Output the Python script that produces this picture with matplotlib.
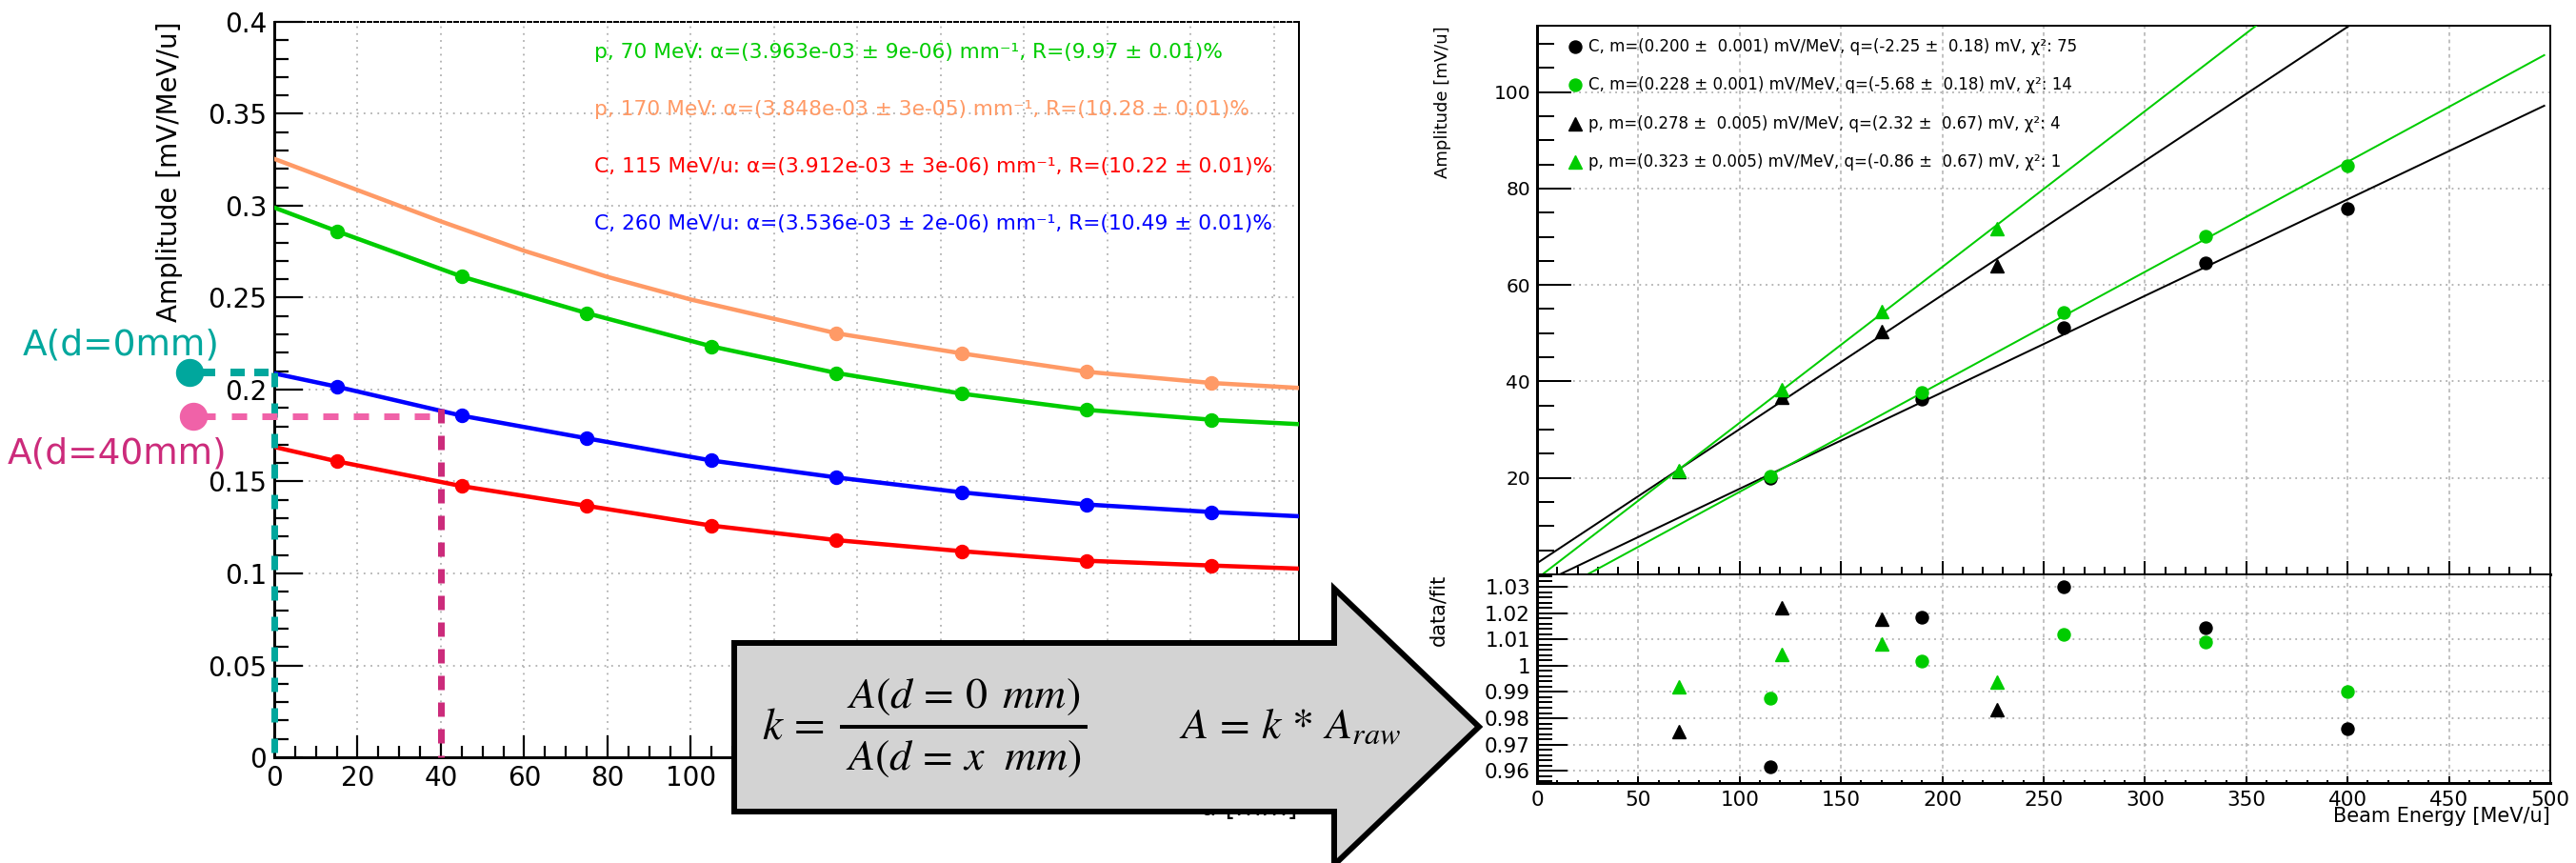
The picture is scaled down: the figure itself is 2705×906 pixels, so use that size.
import numpy as np
import matplotlib
matplotlib.use("Agg")
import matplotlib.pyplot as plt
from matplotlib.patches import Polygon
from matplotlib.lines import Line2D
from matplotlib.ticker import MultipleLocator, FuncFormatter

# ---------------- data: left panel (amplitude vs depth) ----------------
d_markers = [15, 45, 75, 105, 135, 165, 195, 225]
p70_markers = [0.2862, 0.2615, 0.2416, 0.2235, 0.2090, 0.1978, 0.1890, 0.1836]
c260_markers = [0.2016, 0.1858, 0.1735, 0.1614, 0.1522, 0.1441, 0.1375, 0.1334]
c115_markers = [0.1610, 0.1475, 0.1368, 0.1260, 0.1181, 0.1121, 0.1069, 0.1043]
d_p170_markers = [135, 165, 195, 225]
p170_markers = [0.2306, 0.2197, 0.2097, 0.2036]

# fitted curves
d_fit = [0, 15, 45, 75, 105, 135, 165, 195, 225, 246]
p70_fit = [0.2990, 0.2862, 0.2615, 0.2416, 0.2235, 0.2090, 0.1978, 0.1890, 0.1836, 0.1812]
c260_fit = [0.2088, 0.2016, 0.1858, 0.1735, 0.1614, 0.1522, 0.1441, 0.1375, 0.1334, 0.1311]
c115_fit = [0.1688, 0.1610, 0.1475, 0.1368, 0.1260, 0.1181, 0.1121, 0.1069, 0.1043, 0.1026]
d_fit_p170 = [0, 20, 40, 60, 80, 100, 135, 165, 195, 225, 246]
p170_fit = [0.3255, 0.3085, 0.2915, 0.2755, 0.2613, 0.2490, 0.2306, 0.2197, 0.2097, 0.2036, 0.2009]

left_labels = [
    "p, 70 MeV: α=(3.963e-03 ± 9e-06) mm⁻¹, R=(9.97 ± 0.01)%",
    "p, 170 MeV: α=(3.848e-03 ± 3e-05) mm⁻¹, R=(10.28 ± 0.01)%",
    "C, 115 MeV/u: α=(3.912e-03 ± 3e-06) mm⁻¹, R=(10.22 ± 0.01)%",
    "C, 260 MeV/u: α=(3.536e-03 ± 2e-06) mm⁻¹, R=(10.49 ± 0.01)%",
]
# annotation values
A_d0 = 0.2092
d_ref = 40
A_d40 = 0.1856

# ---------------- data: right panel (amplitude vs beam energy) ----------------
E_C = [115, 190, 260, 330, 400]
E_p = [70, 121, 170, 227]
amp_C_black = [19.95, 36.41, 51.24, 64.67, 75.89]
amp_C_green = [20.29, 37.71, 54.24, 70.18, 84.66]
amp_p_black = [21.23, 36.75, 50.45, 64.07]
amp_p_green = [21.58, 38.38, 54.49, 71.69]
ratio_C_black = [0.9614, 1.0185, 1.0300, 1.0144, 0.9761]
ratio_C_green = [0.9876, 1.0019, 1.0119, 1.0089, 0.9900]
ratio_p_black = [0.9749, 1.0220, 1.0175, 0.9834]
ratio_p_green = [0.9920, 1.0042, 1.0081, 0.9938]
fit_slope = [0.200, 0.228, 0.278, 0.323]
fit_intercept = [-2.25, -5.68, 2.32, -0.86]
fit_range = [0, 497]
right_labels = [
    "C, m=(0.200 ±  0.001) mV/MeV, q=(-2.25 ±  0.18) mV, χ²: 75",
    "C, m=(0.228 ± 0.001) mV/MeV, q=(-5.68 ±  0.18) mV, χ²: 14",
    "p, m=(0.278 ±  0.005) mV/MeV, q=(2.32 ±  0.67) mV, χ²: 4",
    "p, m=(0.323 ± 0.005) mV/MeV, q=(-0.86 ±  0.67) mV, χ²: 1",
]

# ---------------- layout helpers ----------------
W, H, DPI = 2705, 906, 100
def fx(px): return px / W
def fy(py): return 1 - py / H
def pt(px): return px * 72.0 / DPI

GREEN = "#00cc00"
ORANGE = "#ff9a66"
RED = "#ff0000"
BLUE = "#0000ff"
TEAL = "#00a79d"
PINK = "#f062a8"
MAGENTA = "#cc2b7b"
GRID = "#b0b0b0"

plt.rcParams["font.family"] = ["DejaVu Sans"]
fig = plt.figure(figsize=(W / DPI, H / DPI), dpi=DPI)
gfmt = FuncFormatter(lambda v, p: "%g" % round(v, 6))

# ================= left panel =================
axL = fig.add_axes([fx(288), fy(795), (1364 - 288) / W, (795 - 23) / H])
axL.set_xlim(0, 246)
axL.set_ylim(0, 0.4)
axL.xaxis.set_major_locator(MultipleLocator(20))
axL.xaxis.set_minor_locator(MultipleLocator(5))
# labels beyond 100 mm are hidden behind the arrow in the reference
axL.xaxis.set_major_formatter(FuncFormatter(lambda v, p: "%g" % v if v <= 100.5 else ""))
axL.yaxis.set_major_locator(MultipleLocator(0.05))
axL.yaxis.set_minor_locator(MultipleLocator(0.01))
axL.yaxis.set_major_formatter(gfmt)
axL.tick_params(axis="x", which="major", direction="in", length=pt(23), width=pt(2.2),
                labelsize=20, pad=pt(8))
axL.tick_params(axis="x", which="minor", direction="in", length=pt(12), width=pt(2.2))
axL.tick_params(axis="y", which="major", direction="in", length=pt(30), width=pt(2.2),
                labelsize=20, pad=pt(8))
axL.tick_params(axis="y", which="minor", direction="in", length=pt(15), width=pt(2.2))
axL.grid(True, which="major", color=GRID, linestyle=(0, (1, 3)), linewidth=1.3)
axL.spines["left"].set_linewidth(pt(3))
axL.spines["bottom"].set_linewidth(pt(3))
axL.spines["right"].set_linewidth(pt(2))
axL.spines["top"].set_linewidth(pt(2))
axL.spines["top"].set_linestyle((0, (2, 1.5)))

axL.plot(d_fit_p170, p170_fit, color=ORANGE, lw=pt(4.5), zorder=3)
axL.plot(d_fit, p70_fit, color=GREEN, lw=pt(4.5), zorder=3)
axL.plot(d_fit, c260_fit, color=BLUE, lw=pt(4.5), zorder=3)
axL.plot(d_fit, c115_fit, color=RED, lw=pt(4.5), zorder=3)
axL.plot(d_p170_markers, p170_markers, "o", color=ORANGE, ms=pt(14), zorder=4)
axL.plot(d_markers, p70_markers, "o", color=GREEN, ms=pt(14), zorder=4)
axL.plot(d_markers, c260_markers, "o", color=BLUE, ms=pt(14), zorder=4)
axL.plot(d_markers, c115_markers, "o", color=RED, ms=pt(14), zorder=4)

for i, (lab, col) in enumerate(zip(left_labels, [GREEN, ORANGE, RED, BLUE])):
    fig.text(fx(624), fy(55 + 60 * i), lab, color=col, fontsize=15.7, ha="left", va="center")

axL.set_ylabel("Amplitude [mV/MeV/u]", fontsize=20)
axL.yaxis.set_label_coords((178 - 288) / (1364 - 288), 1.0)
axL.yaxis.label.set_verticalalignment("center")
axL.yaxis.label.set_horizontalalignment("right")
fig.text(fx(1363), fy(856), "d [mm]", fontsize=20, ha="right", va="baseline", zorder=1)

# ---- A(d=0mm) / A(d=40mm) annotations ----
ytr = axL.get_yaxis_transform()  # x: axes fraction, y: data
ax_w = 1364 - 288
def axfx(px): return (px - 288) / ax_w
lw_ann = pt(8)
axL.add_line(Line2D([axfx(199), axfx(226)], [A_d0, A_d0], color=TEAL, lw=lw_ann,
                    transform=ytr, clip_on=False, solid_capstyle="butt", zorder=6))
axL.add_line(Line2D([axfx(242), axfx(290)], [A_d0, A_d0], color=TEAL, lw=lw_ann,
                    transform=ytr, clip_on=False, linestyle=(0, (15 / 8, 10 / 8)),
                    dash_capstyle="butt", zorder=6))
axL.add_line(Line2D([0, 0], [A_d0, 0], color=TEAL, lw=pt(7), clip_on=False,
                    linestyle=(0, (15 / 7, 17 / 7)), dash_capstyle="butt", zorder=6))
axL.plot([axfx(199)], [A_d0], "o", color=TEAL, ms=pt(28), transform=ytr, clip_on=False, zorder=7)

axL.add_line(Line2D([axfx(203), axfx(226)], [A_d40, A_d40], color=PINK, lw=pt(7),
                    transform=ytr, clip_on=False, solid_capstyle="butt", zorder=6))
axL.add_line(Line2D([axfx(243), axfx(288 + d_ref * ax_w / 246)], [A_d40, A_d40],
                    color=PINK, lw=pt(7), transform=ytr, clip_on=False,
                    linestyle=(0, (16 / 7, 16 / 7)), dash_capstyle="butt", zorder=6))
axL.add_line(Line2D([d_ref, d_ref], [A_d40 + 0.004, 0], color=MAGENTA, lw=pt(7), clip_on=False,
                    linestyle=(0, (15 / 7, 13 / 7)), dash_capstyle="butt", zorder=6))
axL.plot([axfx(203)], [A_d40], "o", color=PINK, ms=pt(28), transform=ytr, clip_on=False, zorder=7)

fig.text(fx(24), fy(373), "A(d=0mm)", color=TEAL, fontsize=27, ha="left", va="baseline")
fig.text(fx(8), fy(487), "A(d=40mm)", color=MAGENTA, fontsize=27, ha="left", va="baseline")

# ---- big arrow ----
arrow_px = [(771, 675), (1401, 675), (1401, 618), (1553, 763), (1401, 908), (1401, 852), (771, 852)]
arrow = Polygon([(fx(x), fy(y)) for x, y in arrow_px], closed=True, transform=fig.transFigure,
                facecolor="#d3d3d3", edgecolor="black", lw=pt(6), joinstyle="miter", zorder=20)
fig.add_artist(arrow)
fig.text(fx(800), fy(775), r"$k\, =$", fontsize=34, math_fontfamily="stix", ha="left",
         va="baseline", zorder=21)
fig.text(fx(1012), fy(743), r"$A(d\,=\,0\ \,mm)$", fontsize=33, math_fontfamily="stix",
         ha="center", va="baseline", zorder=21)
fig.text(fx(1012), fy(808), r"$A(d\,=\,x\ \ mm)$", fontsize=33, math_fontfamily="stix",
         ha="center", va="baseline", zorder=21)
fig.add_artist(Line2D([fx(884), fx(1140)], [fy(763), fy(763)], color="black", lw=pt(4),
                      transform=fig.transFigure, zorder=21))
fig.text(fx(1238), fy(775), r"$A\,=\,k\,*\,A_{raw}$", fontsize=33, math_fontfamily="stix",
         ha="left", va="baseline", zorder=21)

# ================= right panels =================
x0, x1 = 1614, 2678
axU = fig.add_axes([fx(x0), fy(603), (x1 - x0) / W, (603 - 26.7) / H])
axD = fig.add_axes([fx(x0), fy(821.7), (x1 - x0) / W, (821.7 - 603) / H])

for ax in (axU, axD):
    ax.set_xlim(0, 500)
    ax.xaxis.set_major_locator(MultipleLocator(50))
    ax.xaxis.set_minor_locator(MultipleLocator(10))
    ax.yaxis.set_major_formatter(gfmt)
    ax.grid(True, which="major", axis="x", color=GRID, linestyle=(0, (2.5, 2.5)), linewidth=1.1)
    ax.grid(True, which="major", axis="y", color=GRID, linestyle=(0, (1, 2.5)), linewidth=1.3)
    ax.spines["left"].set_linewidth(pt(3))
    ax.spines["bottom"].set_linewidth(pt(3))
    ax.spines["right"].set_linewidth(pt(2))
    ax.spines["top"].set_linewidth(pt(2))

axU.set_ylim(0, 113.8)
axU.yaxis.set_major_locator(MultipleLocator(20))
axU.yaxis.set_minor_locator(MultipleLocator(5))
axU.yaxis.set_major_formatter(FuncFormatter(lambda v, p: "" if abs(v) < 1e-9 else "%g" % v))
axU.tick_params(axis="x", which="major", direction="in", length=pt(14), width=pt(2), labelbottom=False)
axU.tick_params(axis="x", which="minor", direction="in", length=pt(8), width=pt(2))
axU.tick_params(axis="y", which="major", direction="in", length=pt(36), width=pt(2),
                labelsize=14.5, pad=pt(7))
axU.tick_params(axis="y", which="minor", direction="in", length=pt(18), width=pt(2))

axD.set_ylim(0.9555, 1.0347)
axD.yaxis.set_major_locator(MultipleLocator(0.01))
axD.yaxis.set_minor_locator(MultipleLocator(0.002))
axD.tick_params(axis="x", which="major", direction="in", length=pt(7), width=pt(2),
                labelsize=15.5, pad=pt(8))
axD.tick_params(axis="x", which="minor", direction="in", length=pt(3), width=pt(2))
axD.tick_params(axis="y", which="major", direction="in", length=pt(32), width=pt(2),
                labelsize=15.5, pad=pt(7))
axD.tick_params(axis="y", which="minor", direction="in", length=pt(16), width=pt(2))

line_cols = ["black", GREEN, "black", GREEN]
for m, q, c in zip(fit_slope, fit_intercept, line_cols):
    xs = np.array(fit_range, dtype=float)
    axU.plot(xs, m * xs + q, color=c, lw=pt(2), zorder=3)

MS_C, MS_T = pt(13), pt(14)
axU.plot(E_C, amp_C_black, "o", color="black", ms=MS_C, zorder=4)
axU.plot(E_C, amp_C_green, "o", color=GREEN, ms=MS_C, zorder=4)
axU.plot(E_p, amp_p_black, "^", color="black", ms=MS_T, zorder=4)
axU.plot(E_p, amp_p_green, "^", color=GREEN, ms=MS_T, zorder=4)
axD.plot(E_C, ratio_C_black, "o", color="black", ms=MS_C, zorder=4)
axD.plot(E_C, ratio_C_green, "o", color=GREEN, ms=MS_C, zorder=4)
axD.plot(E_p, ratio_p_black, "^", color="black", ms=MS_T, zorder=4)
axD.plot(E_p, ratio_p_green, "^", color=GREEN, ms=MS_T, zorder=4)

leg_markers = [("o", "black", MS_C), ("o", GREEN, MS_C), ("^", "black", MS_T), ("^", GREEN, MS_T)]
for i, (lab, (mk, col, ms)) in enumerate(zip(right_labels, leg_markers)):
    yrow = 49 + 40.3 * i
    fig.add_artist(Line2D([fx(1654)], [fy(yrow)], marker=mk, color=col, ms=ms, linestyle="none",
                          transform=fig.transFigure))
    fig.text(fx(1668), fy(yrow), lab, fontsize=12, ha="left", va="center")

fig.text(fx(1515), fy(27), "Amplitude [mV/u]", fontsize=13, rotation=90, ha="center", va="top")
fig.text(fx(1510), fy(603), "data/fit", fontsize=15, rotation=90, ha="center", va="top")
fig.text(fx(2678), fy(857), "Beam Energy [MeV/u]", fontsize=15, ha="right", va="center")

fig.savefig("out.png", dpi=DPI)
